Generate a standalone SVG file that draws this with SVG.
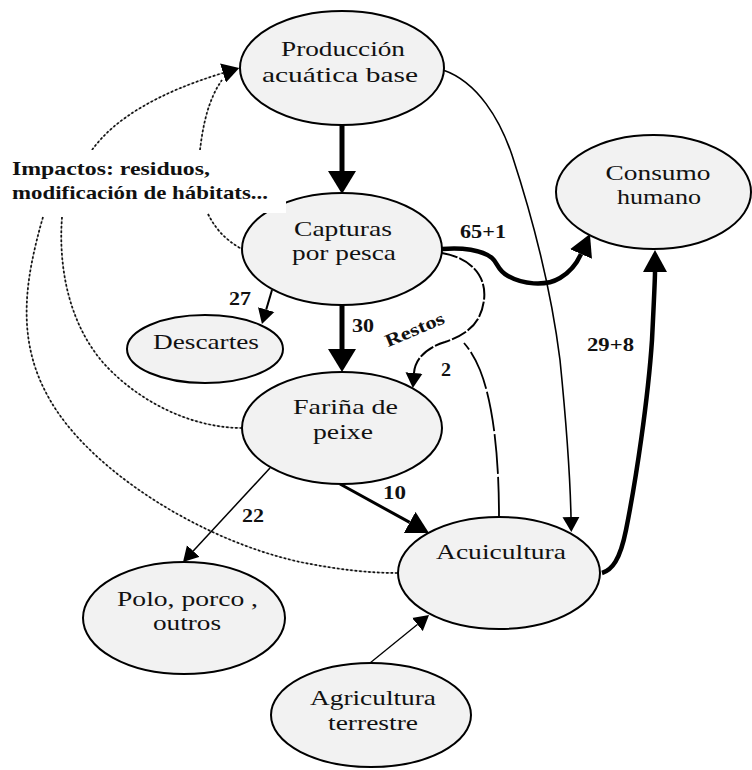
<svg xmlns="http://www.w3.org/2000/svg" width="752" height="770" viewBox="0 0 752 770">
<style>
.node ellipse{fill:#f2f2f2;stroke:#000;stroke-width:2}
.node text{font-family:"Liberation Serif","Times New Roman",serif;font-size:21.5px;fill:#111;text-anchor:middle}
.lbl{font-family:"Liberation Serif","Times New Roman",serif;font-size:18px;font-weight:bold;fill:#111}
.big{font-size:19px}
.e{fill:none;stroke:#000}
.dotbg{fill:none;stroke:#aaa;stroke-width:1}
.dot{fill:none;stroke:#111;stroke-width:1.7;stroke-dasharray:2.5 2}
.dash{stroke-dasharray:16 2}
</style>
<defs>
<marker id="ah-big" viewBox="0 -14 24 28" refX="0" refY="0" markerWidth="24" markerHeight="28" markerUnits="userSpaceOnUse" orient="auto"><path d="M0,-14 L23,0 L0,14 Z"/></marker>
<marker id="ah-med" viewBox="0 -12 23 24" refX="0" refY="0" markerWidth="23" markerHeight="24" markerUnits="userSpaceOnUse" orient="auto"><path d="M0,-12 L22,0 L0,12 Z"/></marker>
<marker id="ah-sm" viewBox="0 -9 16 18" refX="0" refY="0" markerWidth="16" markerHeight="18" markerUnits="userSpaceOnUse" orient="auto"><path d="M0,-8.5 L15,0 L0,8.5 Z"/></marker>
<marker id="ah-dot" viewBox="0 -10 18 20" refX="0" refY="0" markerWidth="18" markerHeight="20" markerUnits="userSpaceOnUse" orient="auto"><path d="M0,-10 L17,0 L0,10 Z"/></marker>
<path id="dA" d="M92,150 C115,118 160,92 223,73"/>
<path id="dB" d="M200,150 C203,125 208,100 222,80"/>
<path id="dC" d="M208,214 C215,228 225,240 242,249"/>
<path id="dD" d="M62,217 C58,270 70,330 110,370 C145,405 195,428 242,428"/>
<path id="dE" d="M43,217 C25,280 15,340 50,400 C90,470 200,540 300,562 C340,570 370,573 398,573"/>
</defs>
<g id="connectors">
<use href="#dA" class="dotbg"/><use href="#dB" class="dotbg"/><use href="#dC" class="dotbg"/><use href="#dD" class="dotbg"/><use href="#dE" class="dotbg"/>
<path class="dot" d="M92,150 C115,118 160,92 223,73" marker-end="url(#ah-dot)"/>
<use href="#dB" class="dot"/><use href="#dC" class="dot"/><use href="#dD" class="dot"/><use href="#dE" class="dot"/>
<path class="e" stroke-width="5" d="M342,125 L342,171" marker-end="url(#ah-big)"/>
<path class="e" stroke-width="5" d="M342,305 L342,349" marker-end="url(#ah-big)"/>
<path class="e" stroke-width="2" d="M272,290 L266.2,309.6" marker-end="url(#ah-sm)"/>
<path class="e" stroke-width="4.5" d="M442,249 C462,247 482,250 492,258 C498,263 497,270 508,276 C522,284 545,287 560,278 C570,272 577,263 581,254" marker-end="url(#ah-med)"/>
<path class="e dash" stroke-width="2" d="M442,253 C470,258 487,275 484,300 C481,325 465,335 445,342 C425,348 415,360 414,373" marker-end="url(#ah-sm)"/>
<path class="e" stroke-width="1.8" stroke-dasharray="40 3" d="M499,517 C499,450 492,400 480,370 C475,358 470,350 464,343"/>
<path class="e" stroke-width="1.6" d="M443,70 C478,82 500,120 512,155 C530,210 550,280 560,360 C566,420 570,470 571,517" marker-end="url(#ah-sm)"/>
<path class="e" stroke-width="4.5" d="M602,573 C612,570 620,560 626,530 C636,480 648,400 652,340 C654,300 655,280 655,272" marker-end="url(#ah-med)"/>
<path class="e" stroke-width="3" d="M340,484 L409.7,522.4" marker-end="url(#ah-med)"/>
<path class="e" stroke-width="1.5" d="M270,468 L193.2,551" marker-end="url(#ah-sm)"/>
<path class="e" stroke-width="1.3" d="M370,663 L417.4,624.5" marker-end="url(#ah-sm)"/>
<text class="lbl" x="229" y="305" textLength="22" lengthAdjust="spacingAndGlyphs">27</text>
<text class="lbl" x="352" y="332" textLength="22" lengthAdjust="spacingAndGlyphs">30</text>
<text class="lbl" x="460" y="238" textLength="46" lengthAdjust="spacingAndGlyphs">65+1</text>
<text class="lbl" x="441" y="376" textLength="10" lengthAdjust="spacingAndGlyphs">2</text>
<text class="lbl" x="587" y="351" textLength="47" lengthAdjust="spacingAndGlyphs">29+8</text>
<text class="lbl" x="383" y="499" textLength="23" lengthAdjust="spacingAndGlyphs">10</text>
<text class="lbl" x="242" y="522" textLength="22" lengthAdjust="spacingAndGlyphs">22</text>
<text class="lbl" x="417" y="335" text-anchor="middle" transform="rotate(-23 417 335)" textLength="63" lengthAdjust="spacingAndGlyphs">Restos</text>
</g>
<g id="n-produccion" class="node"><ellipse cx="342" cy="68" rx="102" ry="57"/><text x="343" y="56" textLength="124" lengthAdjust="spacingAndGlyphs">Producción</text><text x="340" y="82" textLength="156" lengthAdjust="spacingAndGlyphs">acuática base</text></g>
<g id="n-capturas" class="node"><ellipse cx="342" cy="249" rx="100" ry="56"/><text x="343" y="236" textLength="98" lengthAdjust="spacingAndGlyphs">Capturas</text><text x="344" y="260" textLength="104" lengthAdjust="spacingAndGlyphs">por pesca</text></g>
<g id="n-consumo" class="node"><ellipse cx="653.5" cy="192" rx="97.5" ry="57"/><text x="658" y="180" textLength="105" lengthAdjust="spacingAndGlyphs">Consumo</text><text x="659" y="204" textLength="84" lengthAdjust="spacingAndGlyphs">humano</text></g>
<g id="n-descartes" class="node"><ellipse cx="205" cy="349" rx="78" ry="34"/><text x="206" y="349" textLength="106" lengthAdjust="spacingAndGlyphs">Descartes</text></g>
<g id="n-farina" class="node"><ellipse cx="342" cy="428" rx="100" ry="56"/><text x="345.5" y="414" textLength="105" lengthAdjust="spacingAndGlyphs">Fariña de</text><text x="343" y="439" textLength="60" lengthAdjust="spacingAndGlyphs">peixe</text></g>
<g id="n-acuicultura" class="node"><ellipse cx="499" cy="573" rx="101" ry="56"/><text x="501" y="559" textLength="130" lengthAdjust="spacingAndGlyphs">Acuicultura</text></g>
<g id="n-polo" class="node"><ellipse cx="184" cy="618" rx="101" ry="56"/><text x="187.5" y="606" textLength="141" lengthAdjust="spacingAndGlyphs">Polo, porco ,</text><text x="187" y="630" textLength="68" lengthAdjust="spacingAndGlyphs">outros</text></g>
<g id="n-agricultura" class="node"><ellipse cx="371" cy="715" rx="100" ry="52"/><text x="373" y="705" textLength="126" lengthAdjust="spacingAndGlyphs">Agricultura</text><text x="373" y="730" textLength="90" lengthAdjust="spacingAndGlyphs">terrestre</text></g>
<g id="n-impactos"><rect x="5" y="150" width="281" height="63" fill="#fff"/><text class="lbl big" x="12" y="175" textLength="198" lengthAdjust="spacingAndGlyphs">Impactos: residuos,</text><text class="lbl big" x="12" y="199" textLength="256" lengthAdjust="spacingAndGlyphs">modificación de hábitats...</text></g>
</svg>
